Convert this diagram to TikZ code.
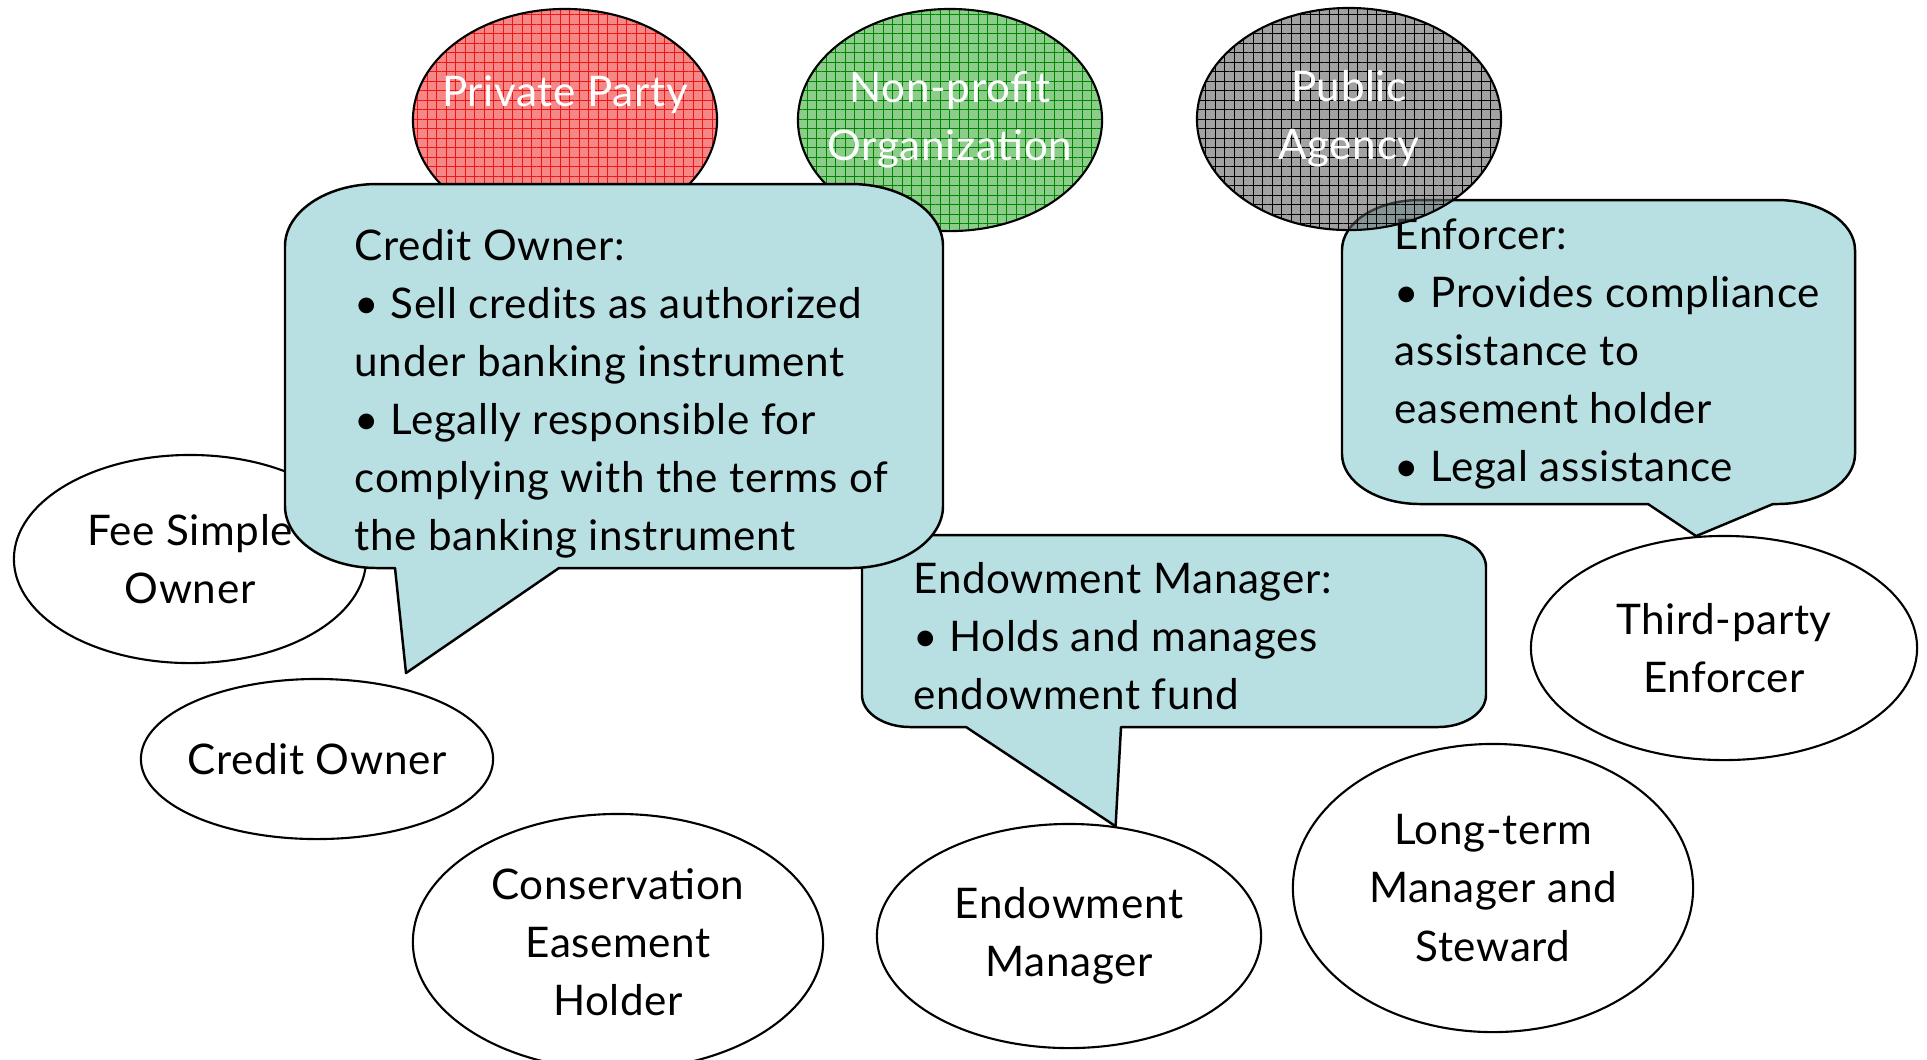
\documentclass[tikz,border=0pt]{standalone}
\usepackage{fontspec}
\setmainfont{Lato}[LetterSpace=1.5]
\usetikzlibrary{shapes.geometric,patterns.meta}

\definecolor{bubble}{RGB}{184,223,226}
\definecolor{redbase}{RGB}{246,135,135}
\definecolor{redline}{RGB}{240,20,20}
\definecolor{greenbase}{RGB}{140,205,140}
\definecolor{greenline}{RGB}{0,135,0}
\definecolor{graybase}{RGB}{100,100,100}

\begin{document}
\begin{tikzpicture}[x=0.01cm,y=-0.01cm]
\tikzset{role/.style = {shape=ellipse,draw,fill=white,line width=0.6pt,inner ysep=0pt,inner xsep=-0.6cm,align=center,font=\fontsize{12pt}{16.5pt}\selectfont}}
\tikzset{party/.style = {role,text=white,minimum width=3.04cm,minimum height=2.22cm,preaction={fill=#1},pattern={Hatch[angle=0,distance=2.7pt,line width=0.25pt]}}}
\tikzset{callout/.style = {draw,fill=bubble,line width=0.7pt,line join=round}}
\tikzset{note/.style = {anchor=west,align=left,inner sep=0pt,font=\fontsize{12pt}{16.5pt}\selectfont}}
\useasboundingbox (0,0) rectangle (1927,1059);

% the three kinds of party
\node[party=redbase,pattern color=redline] (pp) at (565,120) {Private Party\\\mbox{}};
\node[party=greenbase,pattern color=greenline] (npo) at (950,120) {Non-profit\\Organization};

% roles
\node[role,minimum width=3.52cm,minimum height=2.08cm] (fso) at (190,559) {Fee Simple\\Owner};
\node[role,minimum width=3.52cm,minimum height=1.6cm] (cro) at (317,759) {Credit Owner};
\node[role,minimum width=4.1cm,minimum height=2.56cm] (ceh) at (618,942) {Conservation\\Easement\\Holder};
\node[role,minimum width=3.84cm,minimum height=2.24cm] (emg) at (1069,936) {Endowment\\Manager};
\node[role,minimum width=4.0cm,minimum height=2.88cm] (ltm) at (1493,888) {Long-term\\Manager and\\Steward};
\node[role,minimum width=3.86cm,minimum height=2.24cm] (tpe) at (1724,648) {Third-party\\Enforcer};
\coordinate (cotip) at (406,673);

% callouts
\draw[callout] (862,567) .. controls (862,549) and (884,535) .. (910,535)
  -- (1438,535) .. controls (1464,535) and (1486,549) .. (1486,567)
  -- (1486,695) .. controls (1486,713) and (1464,727) .. (1438,727)
  -- (1121,727) -- (emg.67) -- (966,727)
  -- (910,727) .. controls (884,727) and (862,713) .. (862,695) -- cycle;
\node[note] (emtxt) at (913,636) {Endowment Manager:\\• Holds and manages\\endowment fund};

\draw[callout] (285,246) .. controls (285,212) and (326,184) .. (377,184)
  -- (851,184) .. controls (902,184) and (943,212) .. (943,246)
  -- (943,506) .. controls (943,540) and (902,568) .. (851,568)
  -- (559,568) -- (cotip) -- (395,568)
  -- (377,568) .. controls (326,568) and (285,540) .. (285,506) -- cycle;
\node[note] (cotxt) at (354,394) {Credit Owner:\\• Sell credits as authorized\\under banking instrument\\• Legally responsible for\\complying with the terms of\\the banking instrument};

\draw[callout] (1342,250) .. controls (1342,222) and (1377,200) .. (1420,200)
  -- (1777,200) .. controls (1820,200) and (1855,222) .. (1855,250)
  -- (1855,454) .. controls (1855,482) and (1820,504) .. (1777,504)
  -- (1773,504) -- (tpe.104) -- (1648,504)
  -- (1420,504) .. controls (1377,504) and (1342,482) .. (1342,454) -- cycle;
\node[note] (entxt) at (1394,354) {Enforcer:\\• Provides compliance\\assistance to\\easement holder\\• Legal assistance};

\node[party=graybase,pattern color=black,fill opacity=0.6,text opacity=1] (pa) at (1349,119) {Public\\Agency};
\end{tikzpicture}
\end{document}
